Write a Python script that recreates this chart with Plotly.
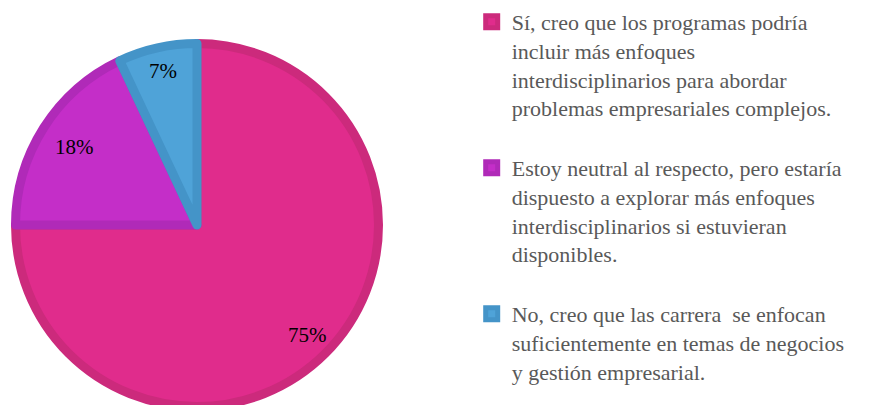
import math
import plotly.graph_objects as go

# Data
labels = [
    "Sí, creo que los programas podría<br>incluir más enfoques<br>interdisciplinarios para abordar<br>problemas empresariales complejos.<br> ",
    "Estoy neutral al respecto, pero estaría<br>dispuesto a explorar más enfoques<br>interdisciplinarios si estuvieran<br>disponibles.<br> ",
    "No, creo que las carrera  se enfocan<br>suficientemente en temas de negocios<br>y gestión empresarial.",
]
values = [75, 18, 7]
pct_text = ["75%", "18%", "7%"]

fill_colors = ["#E02C8C", "#C42EC8", "#4FA3D8"]
line_colors = ["#CC2A7C", "#B02AB8", "#4494C8"]

W, H = 876, 420          # taller than the 405px view so the pie bottom is cut off
cx, cy = 197, 225
lw = 9
R = 186
r = R - lw / 2

fig = go.Figure()
fig.add_trace(go.Pie(
    labels=labels,
    values=values,
    sort=False,
    direction="clockwise",
    rotation=0,
    textinfo="none",
    hoverinfo="label+percent",
    marker=dict(colors=fill_colors, line=dict(color=line_colors, width=lw)),
    domain=dict(x=[(cx - r) / W, (cx + r) / W], y=[(H - cy - r) / H, (H - cy + r) / H]),
    showlegend=True,
))

# percentage labels placed at slice mid-angles
fracs = [0.84, 0.78, 0.85]
total = sum(values)
cum = 0
for v, t, f in zip(values, pct_text, fracs):
    mid = (cum + v / 2) / total * 2 * math.pi
    cum += v
    px = cx + f * R * math.sin(mid)
    py = cy - f * R * math.cos(mid)
    fig.add_annotation(
        x=px / W, y=1 - py / H, xref="paper", yref="paper",
        text=t, showarrow=False, xanchor="center", yanchor="middle",
        font=dict(family="Liberation Serif, Times New Roman, serif", size=21, color="#000000"),
    )

fig.update_layout(
    width=W, height=H, autosize=False,
    margin=dict(l=0, r=0, t=0, b=0),
    paper_bgcolor="white", plot_bgcolor="white",
    legend=dict(
        x=471.7 / W, y=1 - 1 / H, xanchor="left", yanchor="top",
        font=dict(family="Liberation Serif, Times New Roman, serif", size=22, color="#595959"),
        valign="top", bgcolor="rgba(0,0,0,0)",
    ),
)

fig.write_html(
    "out.html",
    config={"displayModeBar": False},
    post_script="document.body.style.margin='0px';",
)
